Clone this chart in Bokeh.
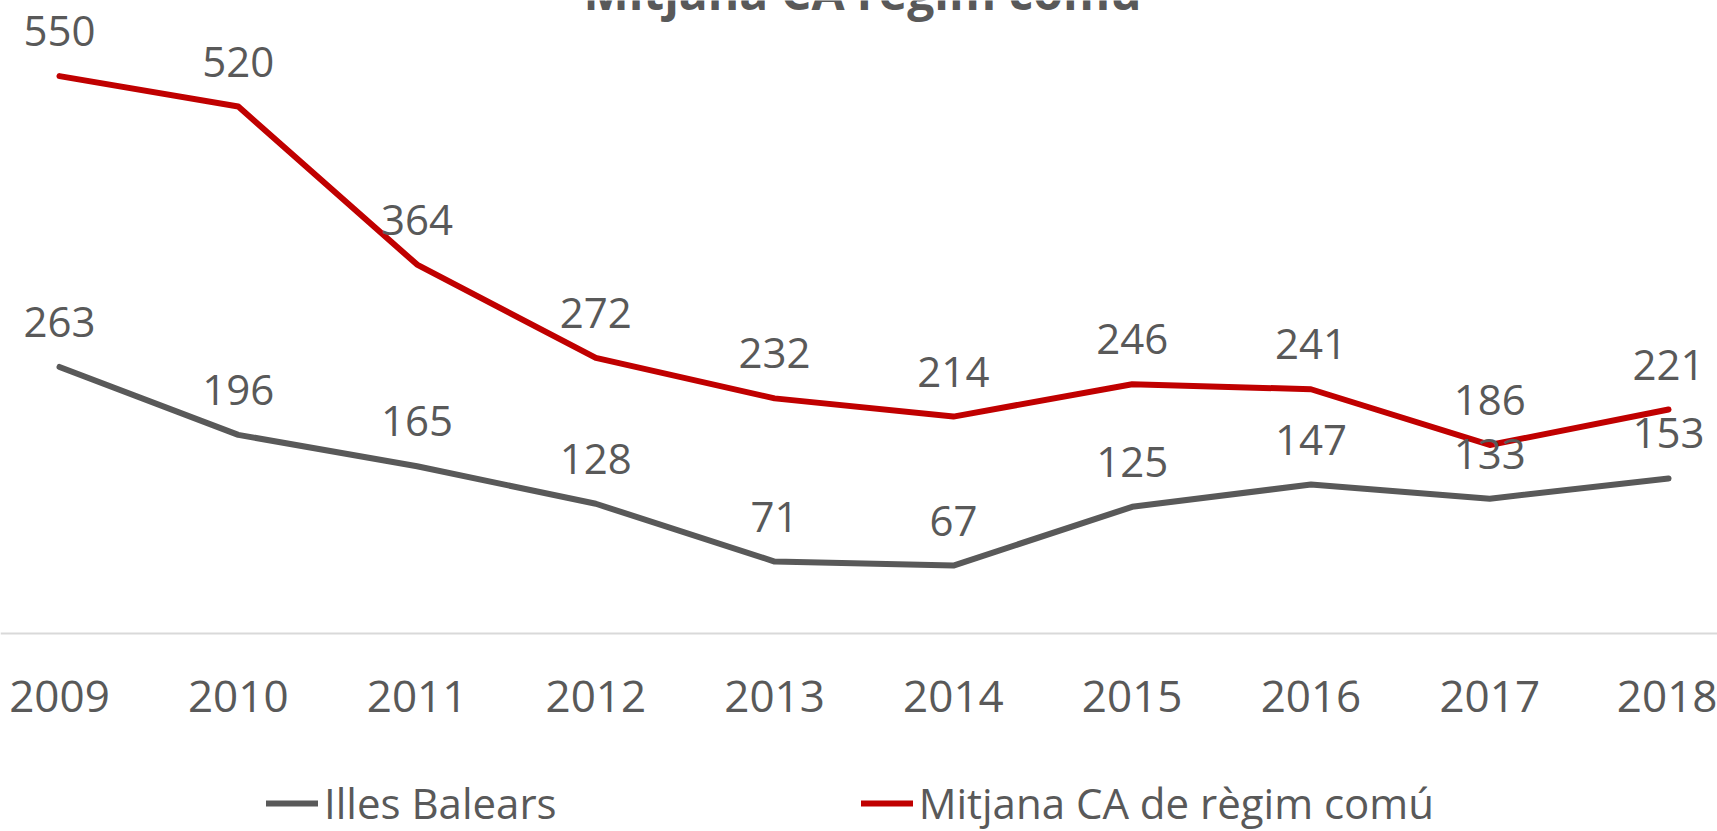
from bokeh.plotting import figure
from bokeh.models import ColumnDataSource, LabelSet, Legend, LegendItem, Range1d, Label, FixedTicker
from bokeh.core.properties import value
from bokeh.embed import file_html
from bokeh.resources import INLINE

years = [2009, 2010, 2011, 2012, 2013, 2014, 2015, 2016, 2017, 2018]
illes_balears = [263, 196, 165, 128, 71, 67, 125, 147, 133, 153]
mitjana_ca = [550, 520, 364, 272, 232, 214, 246, 241, 186, 221]
title_text = "Mitjana CA règim comú"
series_names = ["Illes Balears", "Mitjana CA de règim comú"]

GRAY = "#595959"
RED = "#C00000"
FONT = "Open Sans"

src = ColumnDataSource(dict(
    x=years, ib=illes_balears, mc=mitjana_ca,
    ib_lab=[str(v) for v in illes_balears],
    mc_lab=[str(v) for v in mitjana_ca],
))

p = figure(width=1717, height=831, output_backend="svg", toolbar_location=None,
           x_range=Range1d(2008.67, 2018.274), y_range=Range1d(-195.4, 624.6),
           y_axis_location=None,
           min_border_left=0, min_border_right=0, min_border_top=0, min_border_bottom=0)
p.outline_line_color = None
p.xgrid.grid_line_color = None
p.ygrid.grid_line_color = None
p.background_fill_color = "white"
p.border_fill_color = "white"

r1 = p.line("x", "ib", source=src, line_color=GRAY, line_width=6, line_join="round", line_cap="round")
r2 = p.line("x", "mc", source=src, line_color=RED, line_width=6, line_join="round", line_cap="round")

for col, lab in (("ib", "ib_lab"), ("mc", "mc_lab")):
    ls = LabelSet(x="x", y=col, text=lab, source=src, text_align="center",
                  text_baseline="middle", y_offset=45, text_color=GRAY,
                  text_font=value(FONT), text_font_size="42px")
    p.add_layout(ls)

ax = p.xaxis[0]
ax.fixed_location = 0
ax.ticker = FixedTicker(ticks=years)
ax.axis_line_color = "#d9d9d9"
ax.axis_line_width = 2
ax.major_tick_line_color = None
ax.minor_tick_line_color = None
ax.major_label_text_font = FONT
ax.major_label_text_font_size = "44px"
ax.major_label_text_color = GRAY
ax.major_label_standoff = 42

title = Label(x=862, y=840, x_units="screen", y_units="screen", text=title_text,
              text_align="center", text_baseline="alphabetic", text_font=FONT,
              text_font_size="48px", text_font_style="bold", text_color=GRAY)
p.add_layout(title)

legend = Legend(items=[LegendItem(label=series_names[0], renderers=[r1]),
                       LegendItem(label=series_names[1], renderers=[r2])],
                orientation="horizontal", location=(266, 0), spacing=304,
                glyph_width=52, glyph_height=20, label_standoff=6,
                label_text_font=FONT, label_text_font_size="42px",
                label_text_color=GRAY, border_line_color=None,
                background_fill_alpha=0, margin=0, padding=0)
p.add_layout(legend)

open("out.html", "w").write(file_html(p, INLINE))
